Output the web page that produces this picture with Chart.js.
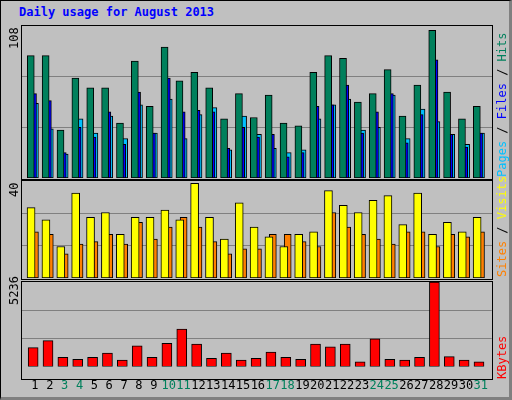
<!DOCTYPE html><html><head><meta charset="utf-8">
<script src="https://cdn.jsdelivr.net/npm/chart.js@4"></script>
<style>
body{margin:0;background:#fff}
#f{position:absolute;left:0;top:0;width:508px;height:396px;background:#C0C0C0;border:1px solid #000;border-right:3px solid #808080;border-bottom:3px solid #808080;font-family:"DejaVu Sans Mono",monospace}
.p{position:absolute;left:20px;width:470px;border:1px solid #000}
.t{position:absolute;font-size:12px;white-space:nowrap;transform-origin:0 0;transform:rotate(-90deg)}
</style></head><body>
<div id="f">
<div style="position:absolute;left:18px;top:4px;color:#0000FF;font-weight:bold;font-size:12px">Daily usage for August 2013</div>
<div style="position:absolute;left:21px;top:25px;width:470px;height:152px"><canvas id="c1"></canvas></div>
<div style="position:absolute;left:21px;top:180px;width:470px;height:97px"><canvas id="c2"></canvas></div>
<div style="position:absolute;left:21px;top:281px;width:470px;height:115px"><canvas id="c3"></canvas></div>
<div class="p" style="top:24px;height:153px"></div>
<div class="p" style="top:179px;height:98px"></div>
<div class="p" style="top:280px;height:97px"></div>
<div class="t" style="left:6px;top:48px">108</div>
<div class="t" style="left:6px;top:196px">40</div>
<div class="t" style="left:6px;top:304px">5236</div>
<div class="t" style="left:494px;top:176px"><span style="color:#00C0FF">Pages</span> / <span style="color:#0000FF">Files</span> / <span style="color:#00805C">Hits</span></div>
<div class="t" style="left:494px;top:276px"><span style="color:#FF8000">Sites</span> / <span style="color:#FFFF00">Visits</span></div>
<div class="t" style="left:494px;top:378px"><span style="color:#FF0000">KBytes</span></div>
</div>
<script>
const days=[1,2,3,4,5,6,7,8,9,10,11,12,13,14,15,16,17,18,19,20,21,22,23,24,25,26,27,28,29,30,31];
const weekend=[3,4,10,11,17,18,24,25,31];
const hits=[87,87,34,71,64,64,39,83,51,93,69,75,64,42,60,43,59,39,37,75,87,85,54,60,77,44,66,105,61,42,51];
const files=[60,55,18,36,29,47,24,61,32,71,47,48,47,21,36,29,31,15,18,51,52,66,32,47,60,25,45,84,31,22,32];
const pages=[53,35,17,42,32,44,28,52,32,56,28,45,50,20,44,31,21,18,20,42,52,56,34,36,59,28,49,40,31,24,32];
const visits=[29,24,13,35,25,27,18,25,25,28,24,39,25,16,31,21,17,13,18,19,36,30,27,32,34,22,35,18,23,19,25];
const sites=[19,18,10,14,15,18,14,23,16,21,25,21,15,10,12,12,18,18,15,13,27,21,18,16,14,19,19,13,18,17,19];
const kbytes=[1171,1610,567,457,567,842,403,1281,567,1446,2324,1391,512,842,403,512,897,567,457,1391,1226,1391,293,1720,457,403,567,5236,622,403,293];
const maxes=[108,40,5236];
function ds(vals,off,color,w){return{data:vals.map((v,i)=>({x:days[i]+off,y:v})),backgroundColor:color,borderColor:'#000',borderWidth:1,borderSkipped:false,barThickness:w,grouped:false}}
function opts(max,showX){return{responsive:true,maintainAspectRatio:false,animation:false,
 layout:{padding:0},plugins:{legend:{display:false},tooltip:{enabled:false}},
 scales:{x:{type:'linear',offset:false,min:0.13,max:31.74,display:showX,border:{display:false},grid:{display:false,offset:false},
   afterBuildTicks:s=>{s.ticks=days.map(d=>({value:d}))},
   ticks:{autoSkip:false,maxRotation:0,padding:4,font:{family:'DejaVu Sans Mono',size:12},
     color:c=>weekend.includes(c.tick.value)?'#00805C':'#000',callback:v=>String(v)}},
  y:{min:0,max:max,border:{display:false},grid:{color:'#808080',drawTicks:false,lineWidth:1},
   afterFit:s=>{s.width=0},afterBuildTicks:s=>{s.ticks=[1,2].map(k=>({value:k*max/3}))},ticks:{display:false}}}}}
new Chart(c1,{type:'bar',data:{datasets:[ds(hits,-0.28,'#00805C',7),ds(files,-0.13,'#0000FF',7),ds(pages,0,'#00C0FF',7)]},options:opts(maxes[0],false)});
new Chart(c2,{type:'bar',data:{datasets:[ds(visits,-0.26,'#FFFF00',8),ds(sites,0,'#FF8000',7)]},options:opts(maxes[1],false)});
new Chart(c3,{type:'bar',data:{datasets:[ds(kbytes,-0.12,'#FF0000',10)]},options:opts(maxes[2],true)});
</script></body></html>
